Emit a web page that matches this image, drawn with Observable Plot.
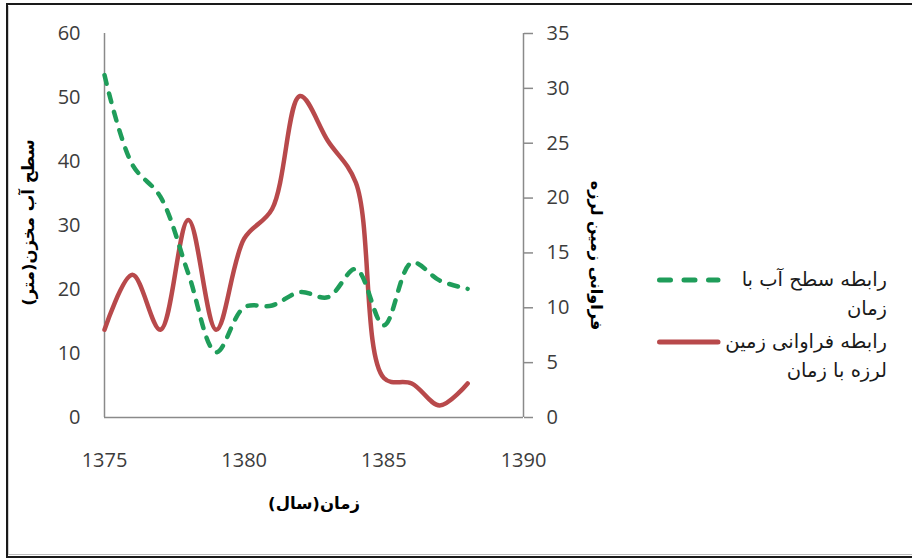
<!DOCTYPE html>
<html>
<head>
<meta charset="utf-8">
<script src="https://cdn.jsdelivr.net/npm/d3@7"></script>
<script src="https://cdn.jsdelivr.net/npm/@observablehq/plot@0.6"></script>
<style>
  html, body { margin: 0; padding: 0; background: #fff; }
  #chart { position: relative; width: 912px; height: 558px; overflow: hidden; background: #fff; }
  #frame { position: absolute; left: 6px; top: 3px; width: 940px; height: 551px;
           border: 2px solid #1a1a1a; border-right: none; box-sizing: content-box; }
  #frame-inner { position: absolute; left: 0; top: 1px; right: 0; bottom: 1px;
                 border-left: 1px solid #cfcfcf; border-bottom: 1px solid #bdbdbd; }
  #plot { position: absolute; left: 0; top: 0; }
  .swatch { position: absolute; }
  .legend-text { position: absolute; direction: rtl; text-align: right;
                 font-family: "DejaVu Sans", sans-serif; font-size: 19.5px;
                 line-height: 29px; color: #1a1a1a; white-space: nowrap; }
</style>
</head>
<body>
<div id="chart">
  <div id="frame"><div id="frame-inner"></div></div>
  <div id="plot"></div>
  <svg class="swatch" style="left:650px;top:272px" width="80" height="16">
    <line x1="9.5" y1="8" x2="68" y2="8" stroke="#1f9d5a" stroke-width="5"
          stroke-linecap="round" stroke-dasharray="11 13.5"></line>
  </svg>
  <div class="legend-text" style="right:25px;top:265px">رابطه سطح آب با<br>زمان</div>
  <svg class="swatch" style="left:650px;top:334px" width="80" height="16">
    <line x1="9.5" y1="8" x2="68" y2="8" stroke="#b8494b" stroke-width="5"
          stroke-linecap="round"></line>
  </svg>
  <div class="legend-text" style="right:25px;top:327px">رابطه فراوانی زمین<br>لرزه با زمان</div>
</div>
<script>
// Annual series, 1375–1388
const years = [1375, 1376, 1377, 1378, 1379, 1380, 1381, 1382, 1383, 1384, 1385, 1386, 1387, 1388];
// Reservoir water level (m), left axis
const waterLevel = [53.5, 39.5, 34.5, 22.5, 10.2, 17.2, 17.5, 19.6, 18.8, 23.2, 14.4, 24.2, 21.4, 20.1];
// Earthquake frequency, right axis
const quakeCount = [8, 13, 8, 18, 8, 16.3, 19, 29.3, 25.2, 21.4, 3.6, 3.1, 1.1, 3.1];

const xTicks = [1375, 1380, 1385, 1390];
const leftTicks = [0, 10, 20, 30, 40, 50, 60];
const rightTicks = [0, 5, 10, 15, 20, 25, 30, 35];

const leftMax = 60, rightMax = 35;
const k = leftMax / rightMax; // right-axis units to left-axis units

const table = years.map((year, i) => ({year, water: waterLevel[i], quake: quakeCount[i]}));

const axisColor = "#8a8a8a";
const labelColor = "#3c3c3c";
const rlm = "\u200F";
const titleFont = "'DejaVu Sans', sans-serif";

const chart = Plot.plot({
  width: 912,
  height: 558,
  marginLeft: 104,
  marginRight: 389,
  marginTop: 33,
  marginBottom: 141,
  x: {domain: [1375, 1390]},
  y: {domain: [0, leftMax]},
  style: {fontFamily: "'Open Sans', sans-serif", fontSize: "20px", background: "transparent", color: labelColor},
  marks: [
    Plot.ruleX([1375, 1390], {stroke: axisColor, strokeWidth: 1.5}),
    Plot.ruleY([0], {stroke: axisColor, strokeWidth: 1.5}),
    Plot.axisY(leftTicks, {anchor: "left", tickSize: 0, tickPadding: 24, label: null,
      tickFormat: "d", fill: labelColor, fontSize: 20}),
    Plot.axisY(rightTicks.map(v => v * k), {anchor: "right", tickSize: 9, tickPadding: 14, label: null,
      tickFormat: d => String(Math.round(d / k)), stroke: axisColor, strokeWidth: 1.5,
      fill: labelColor, fontSize: 20}),
    Plot.axisX(xTicks, {tickSize: 0, tickPadding: 35, label: null, tickFormat: "d",
      fill: labelColor, fontSize: 20}),
    Plot.line(table, {x: "year", y: d => d.quake * k, stroke: "#b8494b", strokeWidth: 4.5,
      curve: "catmull-rom", strokeLinecap: "round", strokeLinejoin: "round"}),
    Plot.line(table, {x: "year", y: "water", stroke: "#1f9d5a", strokeWidth: 4.5,
      strokeDasharray: "9 10", strokeLinecap: "round", curve: "catmull-rom"}),
    Plot.text(["سطح آب مخزن(متر)" + rlm], {text: d => d, frameAnchor: "left", textAnchor: "middle",
      dx: -76, dy: -3, rotate: -90, fontWeight: "bold", fontSize: 16.5, fontFamily: titleFont, fill: "#000"}),
    Plot.text(["فراوانی زمین لرزه"], {text: d => d, frameAnchor: "right", textAnchor: "middle",
      dx: 73, dy: 30, rotate: 90, fontWeight: "bold", fontSize: 16, fontFamily: titleFont, fill: "#000"}),
    Plot.text(["زمان(سال)" + rlm], {text: d => d, frameAnchor: "bottom", textAnchor: "middle",
      dy: 91, fontWeight: "bold", fontSize: 16.5, fontFamily: titleFont, fill: "#000"})
  ]
});

document.getElementById("plot").appendChild(chart);
</script>
</body>
</html>
